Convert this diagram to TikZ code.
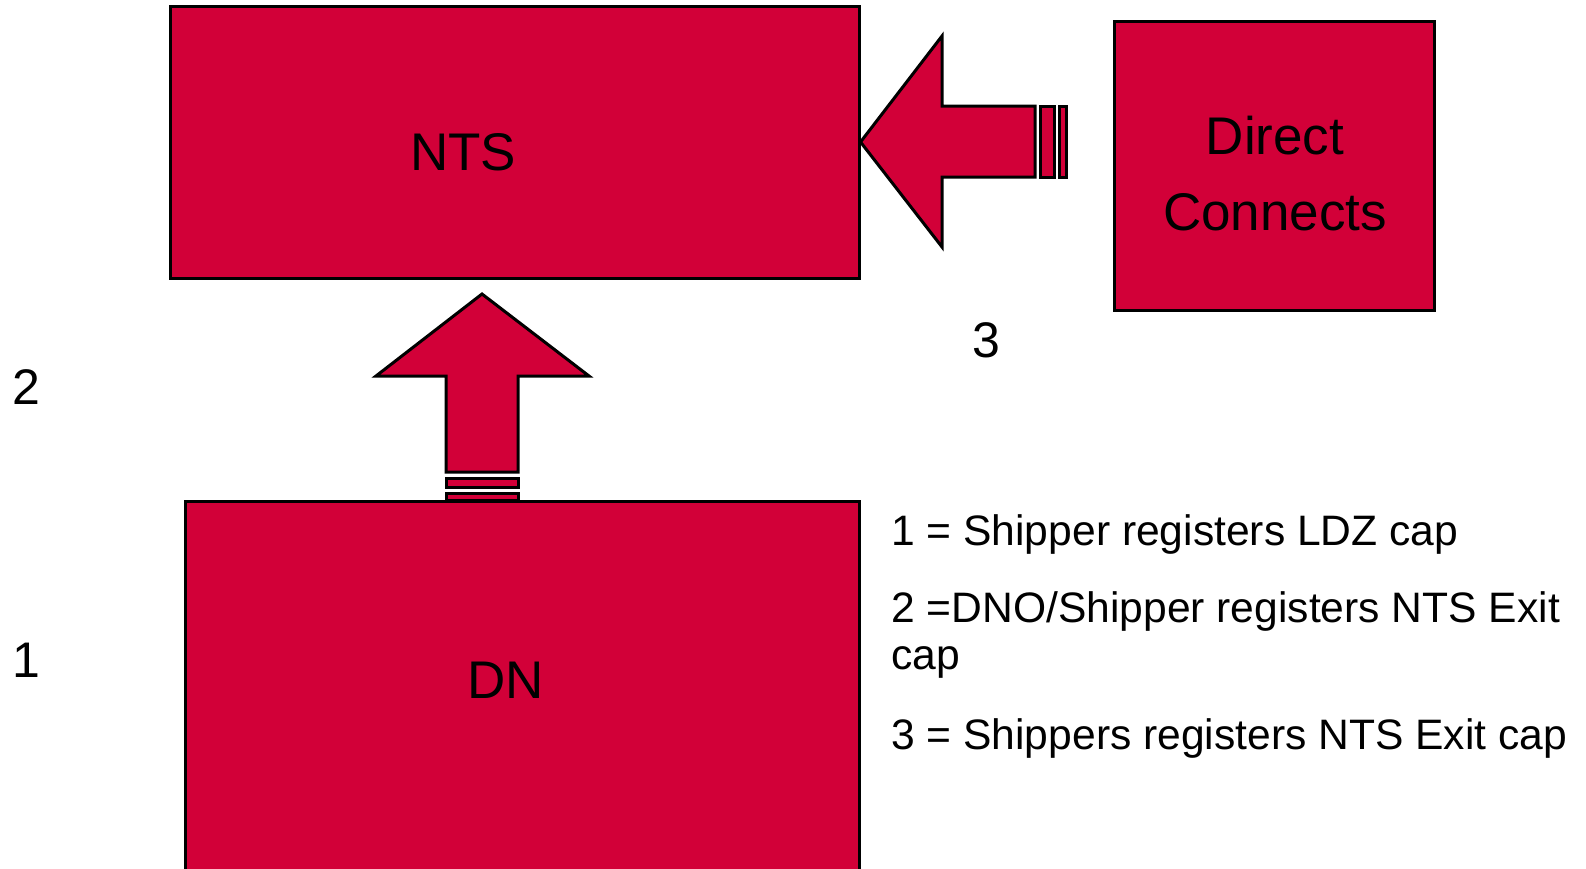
\documentclass[tikz,border=0pt]{standalone}
\usepackage{fontspec}
\setmainfont{Liberation Sans}
\definecolor{boxred}{HTML}{D20038}
\begin{document}
\begin{tikzpicture}[x=1pt,y=-1pt,
  box/.style={draw=black,fill=boxred,line width=3pt,inner sep=0pt},
  shapefill/.style={draw=black,fill=boxred,line width=3pt,line join=miter},
  stripe/.style={draw=black,fill=boxred,line width=3pt},
  bigtxt/.style={font=\fontsize{53}{76}\selectfont,inner sep=0pt,align=center},
  numtxt/.style={font=\fontsize{50}{60}\selectfont,inner sep=0pt},
  legtxt/.style={font=\fontsize{42.6}{51}\selectfont,inner sep=0pt,anchor=west}]
\useasboundingbox (0,0) rectangle (1586,868);
% boxes
\node[box,minimum width=689pt,minimum height=272pt] (nts) at (514.5,142) {};
\node[box,minimum width=320pt,minimum height=289pt] (dc) at (1274,165.5) {};
\node[box,minimum width=674pt,minimum height=400pt] (dn) at (522,701) {};
% left arrow (from Direct Connects to NTS)
\draw[shapefill] (nts.east |- 0,142) -- (942,36) -- (942,106) -- (1035,106) -- (1035,177) -- (942,177) -- (942,247) -- cycle;
\draw[stripe] (1040,106) rectangle (1054,177);
\draw[stripe] (1059,106) rectangle (1066,177);
% up arrow (from DN to NTS)
\draw[shapefill] (482,294) -- (589,376) -- (518,376) -- (518,472) -- (446,472) -- (446,376) -- (376,376) -- cycle;
\draw[stripe] (446,478) rectangle (518,487);
\draw[stripe] (446,493) rectangle (518,500);
% texts
\node[bigtxt] (ntst) at (463,152) {NTS};
\node[bigtxt] (dct) at (1275,174) {Direct\\Connects};
\node[bigtxt] (dnt) at (506,680) {DN};
\node[numtxt] (n2) at (26,387) {2};
\node[numtxt] (n1) at (26,660) {1};
\node[numtxt] (n3) at (986,340) {3};
\node[legtxt] (l1) at (891,534) {1 = Shipper registers LDZ cap};
\node[legtxt] (l2) at (891,611) {2 =DNO/Shipper registers NTS Exit};
\node[legtxt] (l2b) at (891,662) {cap};
\node[legtxt] (l3) at (891,738) {3 = Shippers registers NTS Exit cap};
\end{tikzpicture}
\end{document}
